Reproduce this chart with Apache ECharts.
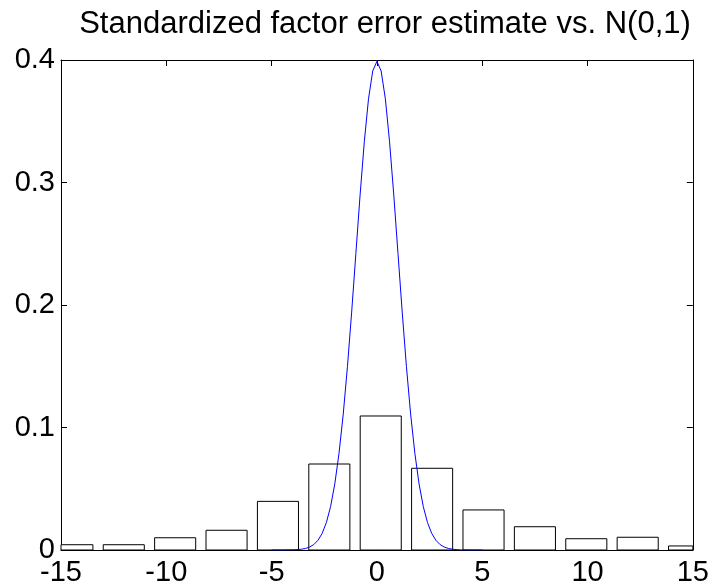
<!DOCTYPE html>
<html>
<head>
<meta charset="utf-8">
<script src="https://cdn.jsdelivr.net/npm/echarts@6/dist/echarts.min.js"></script>
<style>
html,body{margin:0;padding:0;background:#fff;}
#chart{width:712px;height:588px;}
</style>
</head>
<body>
<div id="chart"></div>
<script>
// Histogram bin centers (x) and bar heights (y)
var binCenters = [-14.46, -12.02, -9.58, -7.14, -4.70, -2.26, 0.18, 2.62, 5.06, 7.50, 9.94, 12.38, 14.82];
var binHeights = [0.0043, 0.0043, 0.0100, 0.0161, 0.0397, 0.0702, 0.1094, 0.0667, 0.0327, 0.0190, 0.0092, 0.0104, 0.0033];
// N(0,1) curve
var curveX = [-5.0,-4.8,-4.6,-4.4,-4.2,-4.0,-3.8,-3.6,-3.4,-3.2,-3.0,-2.8,-2.6,-2.4,-2.2,-2.0,-1.8,-1.6,-1.4,-1.2,-1.0,-0.8,-0.6,-0.4,-0.2,0.0,
              0.2,0.4,0.6,0.8,1.0,1.2,1.4,1.6,1.8,2.0,2.2,2.4,2.6,2.8,3.0,3.2,3.4,3.6,3.8,4.0,4.2,4.4,4.6,4.8,5.0];
var curveY = [0.0000,0.0000,0.0000,0.0000,0.0001,0.0001,0.0003,0.0006,0.0012,0.0024,0.0044,0.0079,0.0136,0.0224,0.0355,0.0540,0.0790,0.1109,0.1497,0.1942,0.2420,0.2897,0.3332,0.3683,0.3910,0.3989,
              0.3910,0.3683,0.3332,0.2897,0.2420,0.1942,0.1497,0.1109,0.0790,0.0540,0.0355,0.0224,0.0136,0.0079,0.0044,0.0024,0.0012,0.0006,0.0003,0.0001,0.0001,0.0000,0.0000,0.0000,0.0000];
var xTicks = [-15, -10, -5, 0, 5, 10, 15];
var yTicks = [0, 0.1, 0.2, 0.3, 0.4];
var titleText = 'Standardized factor error estimate vs. N(0,1)';

var barWidthUnits = 1.95;

var chart = echarts.init(document.getElementById('chart'), null, {renderer: 'canvas'});
var FONT = '"Liberation Sans", Arial, Helvetica, sans-serif';
var barData = binCenters.map(function (c, i) { return [c, binHeights[i]]; });
var curveData = curveX.map(function (x, i) { return [x, curveY[i]]; });

var axisCommon = {
  axisLine: {show: true, onZero: false, lineStyle: {color: '#000', width: 1}},
  axisTick: {show: true, inside: true, length: 6, lineStyle: {color: '#000', width: 1}},
  splitLine: {show: false}
};

chart.setOption({
  animation: false,
  backgroundColor: '#fff',
  title: {
    text: titleText,
    left: 380, top: 4, textAlign: 'center',
    textStyle: {fontFamily: FONT, fontSize: 31, fontWeight: 'normal', color: '#000'}
  },
  grid: {left: 61, top: 60, width: 632, height: 490, containLabel: false},
  xAxis: [
    Object.assign({}, axisCommon, {
      type: 'value', position: 'bottom', min: xTicks[0], max: xTicks[xTicks.length - 1], interval: 5,
      axisLabel: {show: true, margin: 8, color: '#000', fontFamily: FONT, fontSize: 29, showMinLabel: true, showMaxLabel: true}
    }),
    Object.assign({}, axisCommon, {
      type: 'value', position: 'top', min: xTicks[0], max: xTicks[xTicks.length - 1], interval: 5,
      axisLabel: {show: false}
    })
  ],
  yAxis: [
    Object.assign({}, axisCommon, {
      type: 'value', position: 'left', min: yTicks[0], max: yTicks[yTicks.length - 1], interval: 0.1,
      axisLabel: {show: true, margin: 6, color: '#000', fontFamily: FONT, fontSize: 29, showMinLabel: true, showMaxLabel: true}
    }),
    Object.assign({}, axisCommon, {
      type: 'value', position: 'right', min: yTicks[0], max: yTicks[yTicks.length - 1], interval: 0.1,
      axisLabel: {show: false}
    })
  ],
  series: [
    {
      type: 'custom',
      xAxisIndex: 0, yAxisIndex: 0,
      data: barData,
      renderItem: function (params, api) {
        var c = api.value(0), h = api.value(1);
        var p0 = api.coord([c - barWidthUnits / 2, h]);
        var p1 = api.coord([c + barWidthUnits / 2, 0]);
        var rect = {x: p0[0], y: p0[1], width: p1[0] - p0[0], height: p1[1] - p0[1]};
        var cs = params.coordSys;
        var clipped = echarts.graphic.clipRectByRect(rect, {x: cs.x, y: cs.y, width: cs.width, height: cs.height});
        if (!clipped) return;
        return {
          type: 'rect',
          shape: clipped,
          style: {fill: '#fff', stroke: '#000', lineWidth: 1}
        };
      },
      z: 2
    },
    {
      type: 'line',
      xAxisIndex: 0, yAxisIndex: 0,
      data: curveData,
      showSymbol: false,
      symbol: 'none',
      lineStyle: {color: '#0000ff', width: 1},
      z: 3
    }
  ]
});
</script>
</body>
</html>
